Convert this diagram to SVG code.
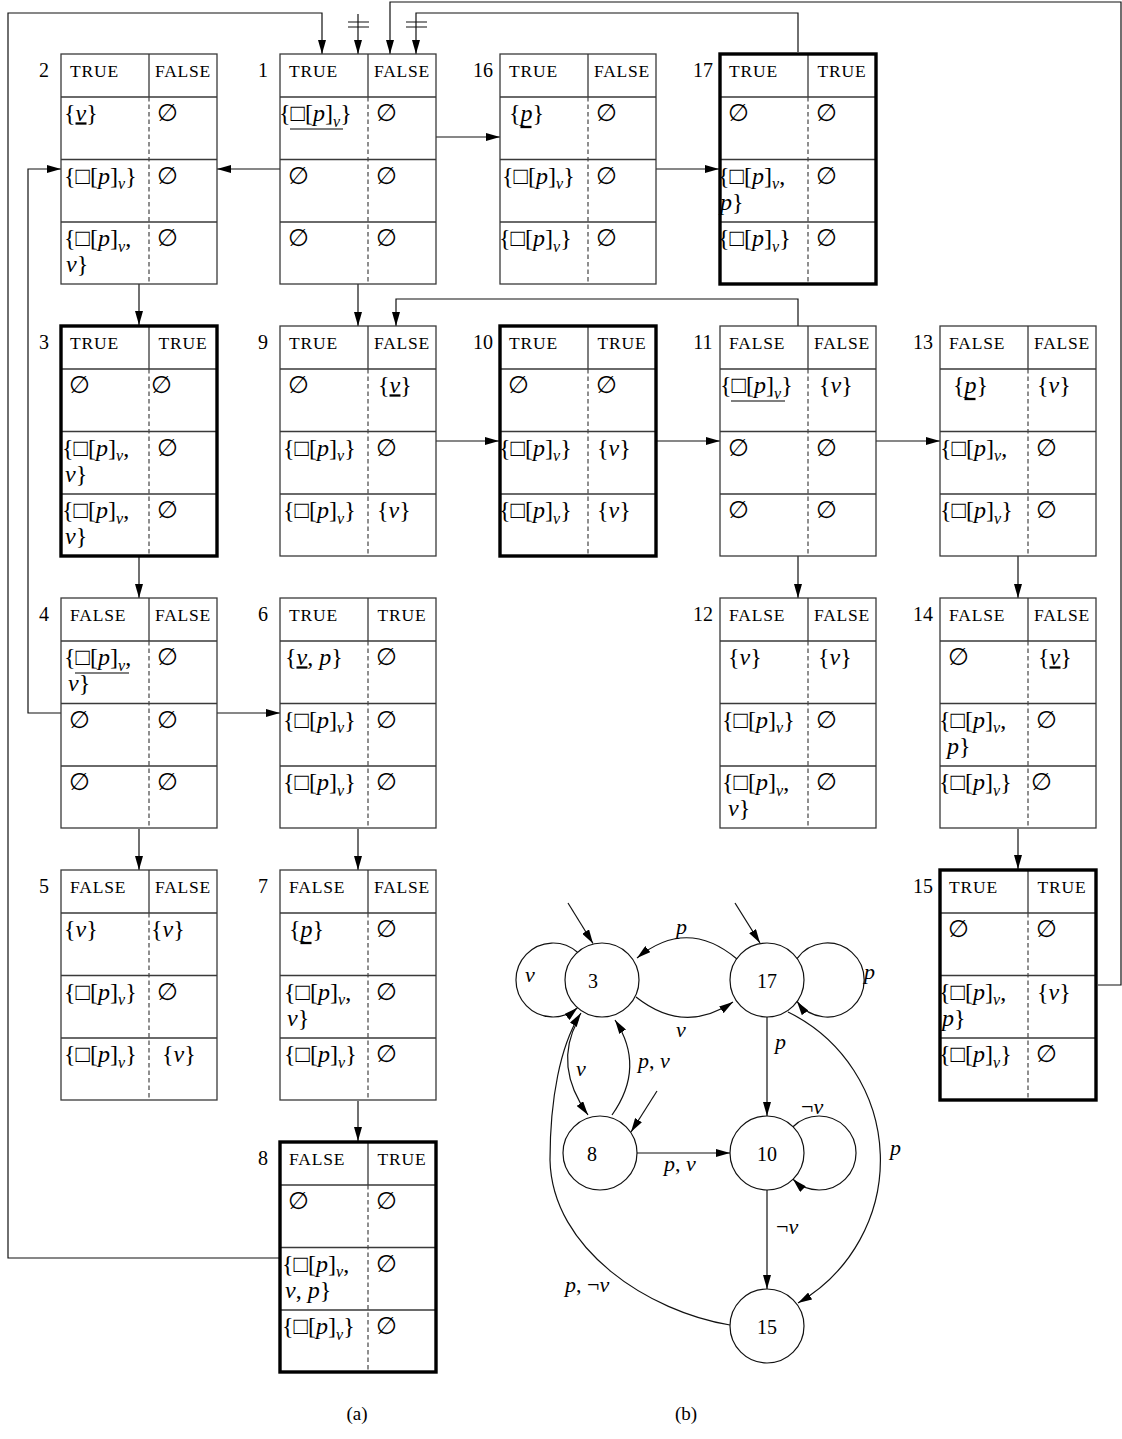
<svg xmlns="http://www.w3.org/2000/svg" xmlns:xlink="http://www.w3.org/1999/xlink" width="1122" height="1439" viewBox="0 0 1122 1439">
<style>
.fw{fill:#fff;stroke:none}
.fr{fill:none;stroke:#3a3a3a;stroke-width:1.3}
.fk{fill:none;stroke:#000;stroke-width:3.4}
.ln{fill:none;stroke:#3a3a3a;stroke-width:1.3}
.ds{fill:none;stroke:#444;stroke-width:1.2;stroke-dasharray:4.5 3}
text{font-family:"Liberation Serif","DejaVu Serif","DejaVu Sans",serif;fill:#000}
.h{font-size:17.5px;letter-spacing:0.8px}
.hr{font-size:17.5px;letter-spacing:0.8px;text-anchor:middle}
.n{font-size:20px;text-anchor:middle}
.m{font-size:24px}
.i{font-style:italic}
.s{font-size:16px;font-style:italic}
.c{fill:none;stroke:#111;stroke-width:1.2}
.u{stroke:#000;stroke-width:1.2}
.uk{stroke:#000;stroke-width:2.3}
.st{fill:none;stroke:#111;stroke-width:1.2}
.gl{font-size:22px;font-style:italic}
.cap{font-size:19px;text-anchor:middle}
</style>
<defs>
<marker id="ah" viewBox="0 0 14 8" refX="14" refY="4" markerWidth="14" markerHeight="8" markerUnits="userSpaceOnUse" orient="auto"><path d="M0,0 L14,4 L0,8 z" fill="#000"/></marker>
<g id="fr"><rect class="fw" x="0" y="0" width="156" height="230"/><path class="ln" d="M0,43H156M0,105.5H156M0,168H156M88,0V43"/><path class="ds" d="M88,43V230"/><rect class="fr" x="0" y="0" width="156" height="230"/></g>
<g id="fk"><rect class="fw" x="0" y="0" width="156" height="230"/><path class="ln" d="M0,43H156M0,105.5H156M0,168H156M88,0V43"/><path class="ds" d="M88,43V230"/><rect class="fk" x="0" y="0" width="156" height="230"/></g>
</defs>
<rect width="1122" height="1439" fill="#fff"/>

<g id="connectors">
<path class="c" marker-end="url(#ah)" d="M280,169 L217,169"/>
<path class="c" marker-end="url(#ah)" d="M436,137 L500,137"/>
<path class="c" marker-end="url(#ah)" d="M656,169 L719,169"/>
<path class="c" marker-end="url(#ah)" d="M139,284 L139,325"/>
<path class="c" marker-end="url(#ah)" d="M358,284 L358,326"/>
<path class="c" marker-end="url(#ah)" d="M798,326 L798,299 L396,299 L396,326"/>
<path class="c" marker-end="url(#ah)" d="M436,441 L499,441"/>
<path class="c" marker-end="url(#ah)" d="M656,441 L720,441"/>
<path class="c" marker-end="url(#ah)" d="M876,441 L940,441"/>
<path class="c" marker-end="url(#ah)" d="M139,556 L139,598"/>
<path class="c" marker-end="url(#ah)" d="M798,556 L798,598"/>
<path class="c" marker-end="url(#ah)" d="M1018,556 L1018,598"/>
<path class="c" marker-end="url(#ah)" d="M61,713 L28,713 L28,169 L61,169"/>
<path class="c" marker-end="url(#ah)" d="M217,713 L280,713"/>
<path class="c" marker-end="url(#ah)" d="M139,829 L139,870"/>
<path class="c" marker-end="url(#ah)" d="M358,829 L358,870"/>
<path class="c" marker-end="url(#ah)" d="M358,1101 L358,1141"/>
<path class="c" marker-end="url(#ah)" d="M1018,829 L1018,869"/>
<path class="c" marker-end="url(#ah)" d="M280,1258 L8,1258 L8,13 L322,13 L322,54"/>
<path class="c" marker-end="url(#ah)" d="M798,52 L798,13 L416,13 L416,54"/>
<path class="c" d="M406,22H427M406,27H427"/>
<path class="c" marker-end="url(#ah)" d="M358,14 L358,54"/>
<path class="c" d="M348,22H369M348,27H369"/>
<path class="c" marker-end="url(#ah)" d="M1098,985 L1121,985 L1121,2 L390,2 L390,54"/>

<path class="c" marker-end="url(#ah)" d="M568,903 L593,943.5"/>
<path class="c" marker-end="url(#ah)" d="M735,903 L760,943"/>
<path class="c" marker-end="url(#ah)" d="M657,1091 L631,1132"/>
<path class="c" marker-end="url(#ah)" d="M577.5,952.3 A37,37 0 1,0 577.5,1007.7"/>
<path class="c" marker-end="url(#ah)" d="M797,958.6 A37,37 0 1,1 797,1001.4"/>
<path class="c" marker-end="url(#ah)" d="M737,959 Q687,917 637,958"/>
<path class="c" marker-end="url(#ah)" d="M636,997 Q684,1035 733,1002"/>
<path class="c" marker-end="url(#ah)" d="M578,1020 Q553,1066 588,1115"/>
<path class="c" marker-end="url(#ah)" d="M612,1115 Q646,1067 615,1020"/>
<path class="c" marker-end="url(#ah)" d="M767,1017 L767,1116"/>
<path class="c" marker-end="url(#ah)" d="M793,1126.7 A37,37 0 1,1 793,1179.3"/>
<path class="c" marker-end="url(#ah)" d="M637,1153 L730,1153"/>
<path class="c" marker-end="url(#ah)" d="M767,1190 L767,1289"/>
<path class="c" marker-end="url(#ah)" d="M788,1012 A165,165 0 0,1 798,1303"/>
<path class="c" marker-end="url(#ah)" d="M730,1325 C650,1312 552,1250 550,1160 C550,1100 560,1045 581,1013"/>
</g>

<g id="n2"><use xlink:href="#fr" x="61" y="54"/><text class="n" x="44" y="77">2</text>
<text class="h" x="70" y="77">TRUE</text><text class="hr" x="183" y="77">FALSE</text>
<text class="m" x="64" y="121">{<tspan class="i">v</tspan>}</text><line class="uk" x1="75.5" y1="123.5" x2="86.5" y2="123.5"/>
<text class="m" x="157" y="121">∅</text>
<text class="m" x="64" y="183.5">{□[<tspan class="i">p</tspan>]<tspan class="s" dy="5.5">v</tspan><tspan dy="-5.5">}</tspan></text><text class="m" x="157" y="183.5">∅</text>
<text class="m" x="64" y="246">{□[<tspan class="i">p</tspan>]<tspan class="s" dy="5.5">v</tspan><tspan dy="-5.5">,</tspan></text><text class="m" x="66" y="272"><tspan class="i">v</tspan>}</text><text class="m" x="157" y="246">∅</text>
</g>

<g id="n1"><use xlink:href="#fr" x="280" y="54"/><text class="n" x="263" y="77">1</text>
<text class="h" x="289" y="77">TRUE</text><text class="hr" x="402" y="77">FALSE</text>
<text class="m" x="279" y="121">{□[<tspan class="i">p</tspan>]<tspan class="s" dy="5.5">v</tspan><tspan dy="-5.5">}</tspan></text><line class="u" x1="290" y1="129" x2="343" y2="129"/><text class="m" x="376" y="121">∅</text>
<text class="m" x="288" y="183.5">∅</text><text class="m" x="376" y="183.5">∅</text>
<text class="m" x="288" y="246">∅</text><text class="m" x="376" y="246">∅</text>
</g>

<g id="n16"><use xlink:href="#fr" x="500" y="54"/><text class="n" x="483" y="77">16</text>
<text class="h" x="509" y="77">TRUE</text><text class="hr" x="622" y="77">FALSE</text>
<text class="m" x="509" y="121">{<tspan class="i">p</tspan>}</text><line class="uk" x1="520.5" y1="127" x2="531.5" y2="127"/><text class="m" x="596" y="121">∅</text>
<text class="m" x="502" y="183.5">{□[<tspan class="i">p</tspan>]<tspan class="s" dy="5.5">v</tspan><tspan dy="-5.5">}</tspan></text><text class="m" x="596" y="183.5">∅</text>
<text class="m" x="499" y="246">{□[<tspan class="i">p</tspan>]<tspan class="s" dy="5.5">v</tspan><tspan dy="-5.5">}</tspan></text><text class="m" x="596" y="246">∅</text>
</g>

<g id="n17"><use xlink:href="#fk" x="720" y="54"/><text class="n" x="703" y="77">17</text>
<text class="h" x="729" y="77">TRUE</text><text class="hr" x="842" y="77">TRUE</text>
<text class="m" x="728" y="121">∅</text><text class="m" x="816" y="121">∅</text>
<text class="m" x="718" y="183.5">{□[<tspan class="i">p</tspan>]<tspan class="s" dy="5.5">v</tspan><tspan dy="-5.5">,</tspan></text><text class="m" x="720" y="209.5"><tspan class="i">p</tspan>}</text><text class="m" x="816" y="183.5">∅</text>
<text class="m" x="718" y="246">{□[<tspan class="i">p</tspan>]<tspan class="s" dy="5.5">v</tspan><tspan dy="-5.5">}</tspan></text><text class="m" x="816" y="246">∅</text>
</g>

<g id="n3"><use xlink:href="#fk" x="61" y="326"/><text class="n" x="44" y="349">3</text>
<text class="h" x="70" y="349">TRUE</text><text class="hr" x="183" y="349">TRUE</text>
<text class="m" x="69" y="393">∅</text><text class="m" x="151" y="393">∅</text>
<text class="m" x="62" y="455.5">{□[<tspan class="i">p</tspan>]<tspan class="s" dy="5.5">v</tspan><tspan dy="-5.5">,</tspan></text><text class="m" x="65" y="481.5"><tspan class="i">v</tspan>}</text><text class="m" x="157" y="455.5">∅</text>
<text class="m" x="62" y="518">{□[<tspan class="i">p</tspan>]<tspan class="s" dy="5.5">v</tspan><tspan dy="-5.5">,</tspan></text><text class="m" x="65" y="544"><tspan class="i">v</tspan>}</text><text class="m" x="157" y="518">∅</text>
</g>

<g id="n9"><use xlink:href="#fr" x="280" y="326"/><text class="n" x="263" y="349">9</text>
<text class="h" x="289" y="349">TRUE</text><text class="hr" x="402" y="349">FALSE</text>
<text class="m" x="288" y="393">∅</text><text class="m" x="378" y="393">{<tspan class="i">v</tspan>}</text><line class="uk" x1="389.5" y1="395.5" x2="400.5" y2="395.5"/>
<text class="m" x="283" y="455.5">{□[<tspan class="i">p</tspan>]<tspan class="s" dy="5.5">v</tspan><tspan dy="-5.5">}</tspan></text><text class="m" x="376" y="455.5">∅</text>
<text class="m" x="283" y="518">{□[<tspan class="i">p</tspan>]<tspan class="s" dy="5.5">v</tspan><tspan dy="-5.5">}</tspan></text><text class="m" x="377" y="518">{<tspan class="i">v</tspan>}</text>
</g>

<g id="n10"><use xlink:href="#fk" x="500" y="326"/><text class="n" x="483" y="349">10</text>
<text class="h" x="509" y="349">TRUE</text><text class="hr" x="622" y="349">TRUE</text>
<text class="m" x="508" y="393">∅</text><text class="m" x="596" y="393">∅</text>
<text class="m" x="499" y="455.5">{□[<tspan class="i">p</tspan>]<tspan class="s" dy="5.5">v</tspan><tspan dy="-5.5">}</tspan></text><text class="m" x="597" y="455.5">{<tspan class="i">v</tspan>}</text>
<text class="m" x="499" y="518">{□[<tspan class="i">p</tspan>]<tspan class="s" dy="5.5">v</tspan><tspan dy="-5.5">}</tspan></text><text class="m" x="597" y="518">{<tspan class="i">v</tspan>}</text>
</g>

<g id="n11"><use xlink:href="#fr" x="720" y="326"/><text class="n" x="703" y="349">11</text>
<text class="h" x="729" y="349">FALSE</text><text class="hr" x="842" y="349">FALSE</text>
<text class="m" x="720" y="393">{□[<tspan class="i">p</tspan>]<tspan class="s" dy="5.5">v</tspan><tspan dy="-5.5">}</tspan></text><line class="u" x1="731" y1="401" x2="785" y2="401"/><text class="m" x="819" y="393">{<tspan class="i">v</tspan>}</text>
<text class="m" x="728" y="455.5">∅</text><text class="m" x="816" y="455.5">∅</text>
<text class="m" x="728" y="518">∅</text><text class="m" x="816" y="518">∅</text>
</g>

<g id="n13"><use xlink:href="#fr" x="940" y="326"/><text class="n" x="923" y="349">13</text>
<text class="h" x="949" y="349">FALSE</text><text class="hr" x="1062" y="349">FALSE</text>
<text class="m" x="953" y="393">{<tspan class="i">p</tspan>}</text><line class="uk" x1="964.5" y1="399" x2="975.5" y2="399"/><text class="m" x="1037" y="393">{<tspan class="i">v</tspan>}</text>
<text class="m" x="940" y="455.5">{□[<tspan class="i">p</tspan>]<tspan class="s" dy="5.5">v</tspan><tspan dy="-5.5">,</tspan></text><text class="m" x="1036" y="455.5">∅</text>
<text class="m" x="940" y="518">{□[<tspan class="i">p</tspan>]<tspan class="s" dy="5.5">v</tspan><tspan dy="-5.5">}</tspan></text><text class="m" x="1036" y="518">∅</text>
</g>

<g id="n4"><use xlink:href="#fr" x="61" y="598"/><text class="n" x="44" y="621">4</text>
<text class="h" x="70" y="621">FALSE</text><text class="hr" x="183" y="621">FALSE</text>
<text class="m" x="64" y="665">{□[<tspan class="i">p</tspan>]<tspan class="s" dy="5.5">v</tspan><tspan dy="-5.5">,</tspan></text><line class="u" x1="75" y1="673" x2="129" y2="673"/><text class="m" x="68" y="691"><tspan class="i">v</tspan>}</text><text class="m" x="157" y="665">∅</text>
<text class="m" x="69" y="727.5">∅</text><text class="m" x="157" y="727.5">∅</text>
<text class="m" x="69" y="790">∅</text><text class="m" x="157" y="790">∅</text>
</g>

<g id="n6"><use xlink:href="#fr" x="280" y="598"/><text class="n" x="263" y="621">6</text>
<text class="h" x="289" y="621">TRUE</text><text class="hr" x="402" y="621">TRUE</text>
<text class="m" x="285" y="665">{<tspan class="i">v</tspan>, <tspan class="i">p</tspan>}</text><line class="uk" x1="296.5" y1="667.5" x2="307.5" y2="667.5"/><text class="m" x="376" y="665">∅</text>
<text class="m" x="283" y="727.5">{□[<tspan class="i">p</tspan>]<tspan class="s" dy="5.5">v</tspan><tspan dy="-5.5">}</tspan></text><text class="m" x="376" y="727.5">∅</text>
<text class="m" x="283" y="790">{□[<tspan class="i">p</tspan>]<tspan class="s" dy="5.5">v</tspan><tspan dy="-5.5">}</tspan></text><text class="m" x="376" y="790">∅</text>
</g>

<g id="n12"><use xlink:href="#fr" x="720" y="598"/><text class="n" x="703" y="621">12</text>
<text class="h" x="729" y="621">FALSE</text><text class="hr" x="842" y="621">FALSE</text>
<text class="m" x="728" y="665">{<tspan class="i">v</tspan>}</text><text class="m" x="818" y="665">{<tspan class="i">v</tspan>}</text>
<text class="m" x="722" y="727.5">{□[<tspan class="i">p</tspan>]<tspan class="s" dy="5.5">v</tspan><tspan dy="-5.5">}</tspan></text><text class="m" x="816" y="727.5">∅</text>
<text class="m" x="722" y="790">{□[<tspan class="i">p</tspan>]<tspan class="s" dy="5.5">v</tspan><tspan dy="-5.5">,</tspan></text><text class="m" x="728" y="816"><tspan class="i">v</tspan>}</text><text class="m" x="816" y="790">∅</text>
</g>

<g id="n14"><use xlink:href="#fr" x="940" y="598"/><text class="n" x="923" y="621">14</text>
<text class="h" x="949" y="621">FALSE</text><text class="hr" x="1062" y="621">FALSE</text>
<text class="m" x="948" y="665">∅</text><text class="m" x="1038" y="665">{<tspan class="i">v</tspan>}</text><line class="uk" x1="1049.5" y1="667.5" x2="1060.5" y2="667.5"/>
<text class="m" x="939" y="727.5">{□[<tspan class="i">p</tspan>]<tspan class="s" dy="5.5">v</tspan><tspan dy="-5.5">,</tspan></text><text class="m" x="947" y="753.5"><tspan class="i">p</tspan>}</text><text class="m" x="1036" y="727.5">∅</text>
<text class="m" x="939" y="790">{□[<tspan class="i">p</tspan>]<tspan class="s" dy="5.5">v</tspan><tspan dy="-5.5">}</tspan></text><text class="m" x="1031" y="790">∅</text>
</g>

<g id="n5"><use xlink:href="#fr" x="61" y="870"/><text class="n" x="44" y="893">5</text>
<text class="h" x="70" y="893">FALSE</text><text class="hr" x="183" y="893">FALSE</text>
<text class="m" x="64" y="937">{<tspan class="i">v</tspan>}</text><text class="m" x="151" y="937">{<tspan class="i">v</tspan>}</text>
<text class="m" x="64" y="999.5">{□[<tspan class="i">p</tspan>]<tspan class="s" dy="5.5">v</tspan><tspan dy="-5.5">}</tspan></text><text class="m" x="157" y="999.5">∅</text>
<text class="m" x="64" y="1062">{□[<tspan class="i">p</tspan>]<tspan class="s" dy="5.5">v</tspan><tspan dy="-5.5">}</tspan></text><text class="m" x="162" y="1062">{<tspan class="i">v</tspan>}</text>
</g>

<g id="n7"><use xlink:href="#fr" x="280" y="870"/><text class="n" x="263" y="893">7</text>
<text class="h" x="289" y="893">FALSE</text><text class="hr" x="402" y="893">FALSE</text>
<text class="m" x="289" y="937">{<tspan class="i">p</tspan>}</text><line class="uk" x1="300.5" y1="943" x2="311.5" y2="943"/><text class="m" x="376" y="937">∅</text>
<text class="m" x="284" y="999.5">{□[<tspan class="i">p</tspan>]<tspan class="s" dy="5.5">v</tspan><tspan dy="-5.5">,</tspan></text><text class="m" x="287" y="1025.5"><tspan class="i">v</tspan>}</text><text class="m" x="376" y="999.5">∅</text>
<text class="m" x="284" y="1062">{□[<tspan class="i">p</tspan>]<tspan class="s" dy="5.5">v</tspan><tspan dy="-5.5">}</tspan></text><text class="m" x="376" y="1062">∅</text>
</g>

<g id="n15"><use xlink:href="#fk" x="940" y="870"/><text class="n" x="923" y="893">15</text>
<text class="h" x="949" y="893">TRUE</text><text class="hr" x="1062" y="893">TRUE</text>
<text class="m" x="948" y="937">∅</text><text class="m" x="1036" y="937">∅</text>
<text class="m" x="939" y="999.5">{□[<tspan class="i">p</tspan>]<tspan class="s" dy="5.5">v</tspan><tspan dy="-5.5">,</tspan></text><text class="m" x="942" y="1025.5"><tspan class="i">p</tspan>}</text><text class="m" x="1037" y="999.5">{<tspan class="i">v</tspan>}</text>
<text class="m" x="939" y="1062">{□[<tspan class="i">p</tspan>]<tspan class="s" dy="5.5">v</tspan><tspan dy="-5.5">}</tspan></text><text class="m" x="1036" y="1062">∅</text>
</g>

<g id="n8"><use xlink:href="#fk" x="280" y="1142"/><text class="n" x="263" y="1165">8</text>
<text class="h" x="289" y="1165">FALSE</text><text class="hr" x="402" y="1165">TRUE</text>
<text class="m" x="288" y="1209">∅</text><text class="m" x="376" y="1209">∅</text>
<text class="m" x="282" y="1271.5">{□[<tspan class="i">p</tspan>]<tspan class="s" dy="5.5">v</tspan><tspan dy="-5.5">,</tspan></text><text class="m" x="285" y="1297.5"><tspan class="i">v</tspan>, <tspan class="i">p</tspan>}</text><text class="m" x="376" y="1271.5">∅</text>
<text class="m" x="282" y="1334">{□[<tspan class="i">p</tspan>]<tspan class="s" dy="5.5">v</tspan><tspan dy="-5.5">}</tspan></text><text class="m" x="376" y="1334">∅</text>
</g>

<g id="s3"><circle class="st" cx="602" cy="980" r="37"/><text class="n" x="593" y="988">3</text></g>
<g id="s17"><circle class="st" cx="767" cy="980" r="37"/><text class="n" x="767" y="988">17</text></g>
<g id="s8"><circle class="st" cx="600" cy="1153" r="37"/><text class="n" x="592" y="1161">8</text></g>
<g id="s10"><circle class="st" cx="767" cy="1153" r="37"/><text class="n" x="767" y="1161">10</text></g>
<g id="s15"><circle class="st" cx="767" cy="1326" r="37"/><text class="n" x="767" y="1334">15</text></g>

<g id="edge-labels">
<text class="gl" x="525" y="982">v</text>
<text class="gl" x="864" y="979">p</text>
<text class="gl" x="676" y="934">p</text>
<text class="gl" x="676" y="1037">v</text>
<text class="gl" x="576" y="1076">v</text>
<text class="gl" x="638" y="1068">p<tspan font-style="normal">, </tspan>v</text>
<text class="gl" x="775" y="1049">p</text>
<text class="gl" x="801" y="1114"><tspan font-style="normal">¬</tspan>v</text>
<text class="gl" x="664" y="1171">p<tspan font-style="normal">, </tspan>v</text>
<text class="gl" x="776" y="1234"><tspan font-style="normal">¬</tspan>v</text>
<text class="gl" x="890" y="1155">p</text>
<text class="gl" x="565" y="1292">p<tspan font-style="normal">, ¬</tspan>v</text>
</g>

<text class="cap" x="357" y="1420">(a)</text>
<text class="cap" x="686" y="1420">(b)</text>
</svg>
